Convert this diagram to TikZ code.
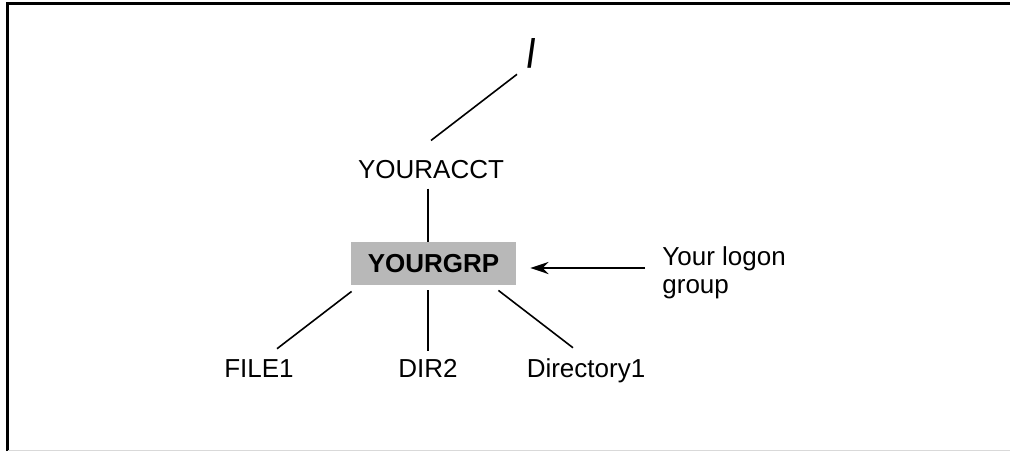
\documentclass[tikz,border=0pt]{standalone}
\usepackage{fontspec}
\setmainfont{Liberation Sans}
\usetikzlibrary{arrows.meta}

\tikzset{
  dirname/.style={inner sep=0pt, anchor=base, font=\fontsize{13}{14}\selectfont},
  grpbox/.style={fill=black!28, minimum width=82.5pt, minimum height=21.5pt,
    inner sep=0pt, font=\fontsize{13}{14}\selectfont\bfseries},
  tree/.style={line width=0.8pt}
}

\begin{document}
\begin{tikzpicture}
[x=0.5pt, y=-0.5pt]
\useasboundingbox (0,0) rectangle (1010,451);

% frame
\draw[line width=1.5pt] (7,451) -- (7,3.5) -- (1010,3.5);
\draw[black!15, line width=0.5pt] (8,450) -- (1010,450);

% directory nodes
\node[inner sep=0pt, xscale=0.75, font=\fontsize{20}{21}\selectfont\bfseries] (root) at (532,53) {/};
\node[dirname] (acct) at (431,178) {YOURACCT};
\node[grpbox] (grp) at (433.5,263.5) {YOURGRP};
\node[dirname] (file1) at (259,377) {FILE1};
\node[dirname] (dir2) at (428,377) {DIR2};
\node[dirname] (dir1) at (586,377) {Directory1};

\node[inner sep=0pt, anchor=west, align=left, font=\fontsize{13}{14}\selectfont]
  (logon) at (662,273) {Your logon\\group};

% connectors
\draw[tree] ([xshift=-7.5pt,yshift=-3pt]root.south) -- ([yshift=9.5pt]acct.north);
\draw[tree] ([xshift=-1.5pt,yshift=-5pt]acct.south) -- ([xshift=-2.75pt]grp.north);
\draw[tree] ([xshift=0.5pt,yshift=-3pt]grp.south west) -- ([xshift=9pt,yshift=5pt]file1.north);
\draw[tree] ([xshift=-2.75pt,yshift=-2.5pt]grp.south) -- ([yshift=3.5pt]dir2.north);
\draw[tree] ([xshift=-9pt,yshift=-2.5pt]grp.south east) -- ([xshift=-6.5pt,yshift=5pt]dir1.north);

\draw[line width=1.3pt, -{Stealth[length=9pt,width=6pt]}]
  ([xshift=-8.5pt,yshift=2.5pt]logon.west) -- ([xshift=7pt,yshift=-2.25pt]grp.east);

\end{tikzpicture}
\end{document}
